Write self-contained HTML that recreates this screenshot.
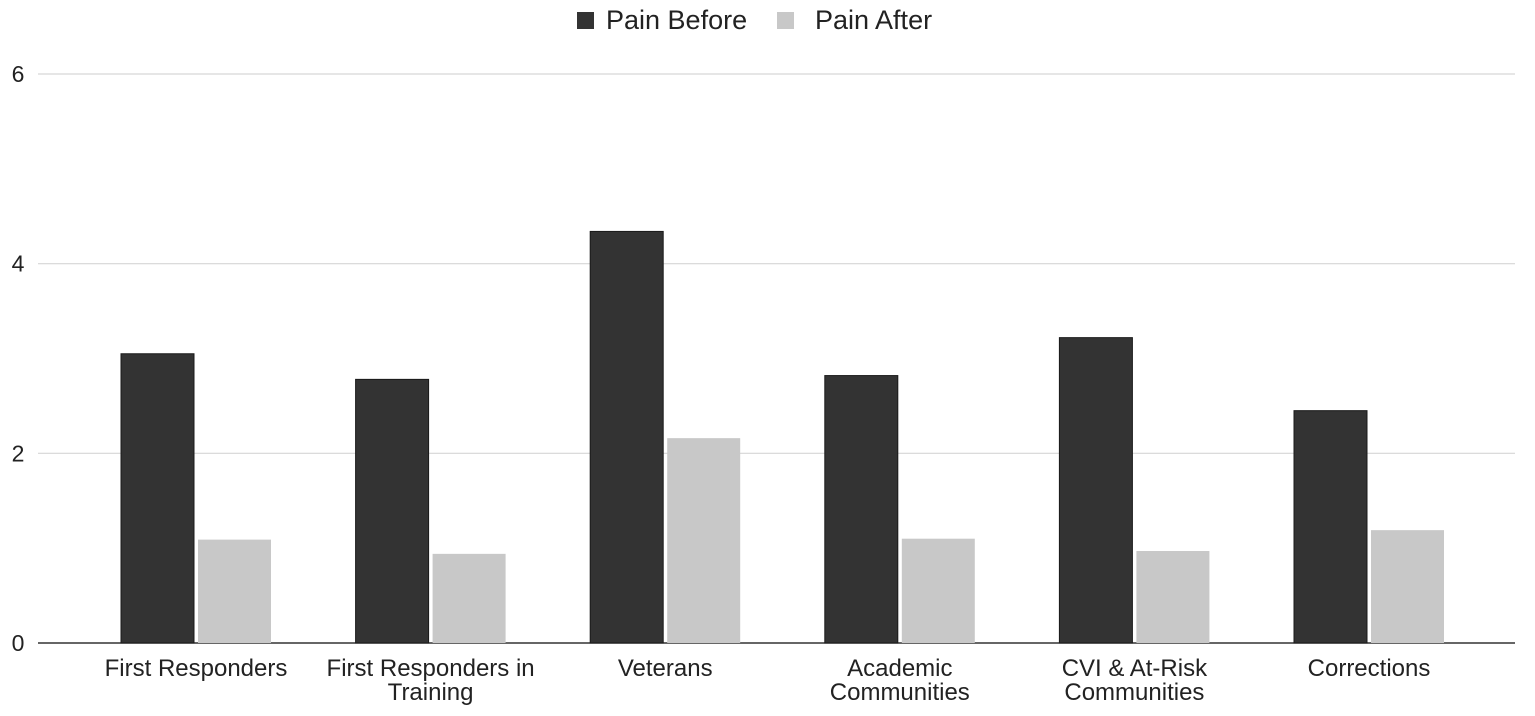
<!DOCTYPE html>
<html><head><meta charset="utf-8"><style>
body{margin:0;background:#fff;}
svg{display:block;font-family:"Liberation Sans",Arial,sans-serif;}
</style></head><body>
<svg id="chart" width="1535" height="716">
<g id="legend">
<rect x="577" y="12" width="17" height="17" fill="#333"/>
<text x="606" y="29" font-size="27" fill="#222">Pain Before</text>
<rect x="777" y="12" width="17" height="17" fill="#c8c8c8"/>
<text x="815" y="29" font-size="27" fill="#222">Pain After</text>
</g>
<g id="grid"></g><g id="bars"></g><g id="xlabels"></g>
</svg>
<script>
const categories=[["First Responders"],["First Responders in","Training"],["Veterans"],["Academic","Communities"],["CVI & At-Risk","Communities"],["Corrections"]];
const painBefore=[3.05,2.78,4.34,2.82,3.22,2.45];
const painAfter=[1.09,0.94,2.16,1.10,0.97,1.19];
const yTicks=[0,2,4,6];
const NS="http://www.w3.org/2000/svg";
const y0=643,pxPerUnit=(643-74)/6;
const yScale=v=>y0-v*pxPerUnit;
const xCenter=i=>196+i*234.6;
function mk(tag,attrs,parent){const e=document.createElementNS(NS,tag);for(const k in attrs)e.setAttribute(k,attrs[k]);parent.appendChild(e);return e;}
const grid=document.getElementById('grid'),bars=document.getElementById('bars'),xl=document.getElementById('xlabels');
yTicks.forEach(t=>{
 const l=mk('line',{x1:38,x2:1515,y1:yScale(t),y2:yScale(t),stroke:t===0?'#333':'#d6d6d6','stroke-width':t===0?1.5:1.2},grid);
 
 
 const tx=mk('text',{x:18,y:yScale(t)+8,'font-size':23,fill:'#222','text-anchor':'middle'},grid);
 tx.textContent=t;
 
 
});
categories.forEach((c,i)=>{
 const cx=xCenter(i);
 const b=mk('rect',{x:cx-75,y:yScale(painBefore[i]),width:73,height:y0-yScale(painBefore[i]),fill:'#333',stroke:'#1a1a1a','stroke-width':1},bars);
 
 
 const a=mk('rect',{x:cx+2,y:yScale(painAfter[i]),width:73,height:y0-yScale(painAfter[i]),fill:'#c8c8c8'},bars);
 
 
 c.forEach((line,j)=>{
  const t=mk('text',{x:cx,y:676+j*24,'font-size':24,fill:'#222','text-anchor':'middle'},xl);
  t.textContent=line;
  
  
 });
});
</script>
</body></html>
